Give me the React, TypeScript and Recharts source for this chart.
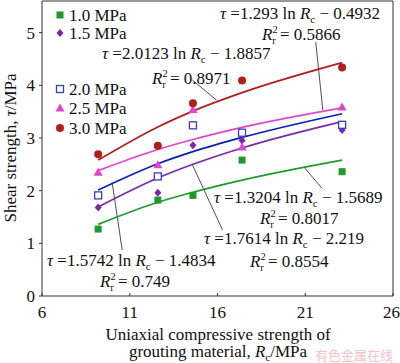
import React from "react"
import { ComposedChart, Scatter, Line, XAxis, YAxis, ReferenceLine } from "recharts"

// Shear strength vs. grouting material UCS, five confining pressures with log fits.

const rc = [9.2, 12.6, 14.6, 17.4, 23.1]

const tau10 = [1.27, 1.82, 1.91, 2.58, 2.36]
const tau15 = [1.68, 1.96, 2.86, 2.95, 3.15]
const tau20 = [1.91, 2.27, 3.24, 3.1, 3.25]
const tau25 = [2.35, 2.49, 3.54, 2.83, 3.59]
const tau30 = [2.69, 2.85, 3.66, 4.09, 4.34]

// fitted curves at the same Rc values
const fit10 = [1.36, 1.78, 1.97, 2.2, 2.58]
const fit15 = [1.69, 2.24, 2.5, 2.81, 3.31]
const fit20 = [2.01, 2.51, 2.74, 3.01, 3.46]
const fit25 = [2.38, 2.78, 2.97, 3.2, 3.57]
const fit30 = [2.58, 3.21, 3.51, 3.86, 4.43]

const xTicks = [6, 11, 16, 21, 26]
const yTicks = [0, 1, 2, 3, 4, 5]

const labels = ["1.0 MPa", "1.5 MPa", "2.0 MPa", "2.5 MPa", "3.0 MPa"]
const coefA = ["1.3204", "1.7614", "1.5742", "1.293", "2.0123"]
const coefB = ["1.5689", "2.219", "1.4834", "0.4932", "1.8857"]
const r2 = ["0.8017", "0.8554", "0.749", "0.5866", "0.8971"]

const SERIF = "'Liberation Serif', 'Times New Roman', serif"

type Kind = "sq" | "dia" | "osq" | "tri" | "dot"

const series: { kind: Kind; color: string; line: string; pts: number[]; fit: number[] }[] = [
  { kind: "sq", color: "#1c9a2a", line: "#1f9a2e", pts: tau10, fit: fit10 },
  { kind: "dia", color: "#7a26a8", line: "#7b2aa6", pts: tau15, fit: fit15 },
  { kind: "osq", color: "#3b3bc4", line: "#0c1db8", pts: tau20, fit: fit20 },
  { kind: "tri", color: "#e244cc", line: "#e244cc", pts: tau25, fit: fit25 },
  { kind: "dot", color: "#b01e1e", line: "#b01e1e", pts: tau30, fit: fit30 },
]

const toRows = (ys: number[]) => rc.map((x, i) => ({ x, y: ys[i] }))

function Marker({ kind, color, cx, cy }: { kind: Kind; color: string; cx: number; cy: number }) {
  if (kind === "sq") return <rect x={cx - 3.5} y={cy - 3.5} width={7} height={7} fill={color} />
  if (kind === "osq")
    return <rect x={cx - 3.5} y={cy - 3.5} width={7} height={7} fill="#fff" stroke={color} strokeWidth={1.3} />
  if (kind === "dia")
    return <polygon points={`${cx},${cy - 4} ${cx + 3.5},${cy} ${cx},${cy + 4} ${cx - 3.5},${cy}`} fill={color} />
  if (kind === "tri")
    return <polygon points={`${cx},${cy - 4.5} ${cx + 4.5},${cy + 3.5} ${cx - 4.5},${cy + 3.5}`} fill={color} />
  return <circle cx={cx} cy={cy} r={4} fill={color} />
}

function Eq({ x, y, a, b }: { x: number; y: number; a: string; b: string }) {
  return (
    <text x={x} y={y} fontSize={17} fontFamily={SERIF} fill="#111">
      <tspan fontStyle="italic">τ</tspan>
      <tspan> =</tspan>
      <tspan>{a} ln </tspan>
      <tspan fontStyle="italic">R</tspan>
      <tspan fontSize={11} dy={4}>c</tspan>
      <tspan dy={-4}> − {b}</tspan>
    </text>
  )
}

function R2({ x, y, v }: { x: number; y: number; v: string }) {
  return (
    <text x={x} y={y} fontSize={17} fontFamily={SERIF} fill="#111">
      <tspan fontStyle="italic">R</tspan>
      <tspan fontSize={10.5} dy={-7}>2</tspan>
      <tspan fontSize={10.5} dx={-5.5} dy={11}>r</tspan>
      <tspan dy={-4}> = {v}</tspan>
    </text>
  )
}

// leader lines, in data units: [x1, y1, x2, y2]
const leaders = [
  [20.97, 2.43, 21.94, 2.05],
  [14.57, 2.49, 16.29, 1.25],
  [10.0, 2.15, 10.57, 0.87],
  [21.6, 4.82, 22.0, 3.53],
  [14.57, 4.1, 15.94, 3.72],
]

export default function App() {
  const tick = { fontSize: 17, fill: "#111", fontFamily: SERIF }
  return (
    <div style={{ position: "absolute", left: 0, top: 0, width: 400, height: 363, background: "#fff" }}>
      <ComposedChart width={400} height={363} margin={{ top: 1, right: 7, bottom: 37, left: 0 }}>
        <XAxis
          dataKey="x"
          type="number"
          domain={[6, 26]}
          ticks={xTicks}
          tick={tick}
          tickSize={-3}
          tickMargin={13}
          height={30}
          stroke="#333"
          allowDataOverflow
        />
        <YAxis
          dataKey="y"
          type="number"
          domain={[0, 5.6]}
          ticks={yTicks}
          tick={tick}
          tickSize={3}
          tickMargin={4}
          width={42}
          stroke="#333"
          allowDataOverflow
        />
        <ReferenceLine y={5.6} stroke="#333" />
        <ReferenceLine x={26} stroke="#333" />
        {leaders.map((l, i) => (
          <ReferenceLine
            key={"l" + i}
            segment={[{ x: l[0], y: l[1] }, { x: l[2], y: l[3] }]}
            stroke="#222"
            strokeWidth={0.8}
          />
        ))}
        {series.map((s, i) => (
          <Line
            key={"f" + i}
            data={toRows(s.fit)}
            dataKey="y"
            type="monotone"
            stroke={s.line}
            strokeWidth={1.7}
            dot={false}
            activeDot={false}
            isAnimationActive={false}
          />
        ))}
        {series.map((s, i) => (
          <Scatter
            key={"s" + i}
            data={toRows(s.pts)}
            isAnimationActive={false}
            shape={(p: any) => <Marker kind={s.kind} color={s.color} cx={p.cx} cy={p.cy} />}
          />
        ))}
      </ComposedChart>
      <svg width={400} height={363} style={{ position: "absolute", left: 0, top: 0, pointerEvents: "none" }}>
        {[15, 33, 89, 108, 128].map((cy, i) => (
          <g key={i}>
            <Marker kind={series[i].kind} color={series[i].color} cx={60} cy={cy} />
            <text x={69} y={cy + 6} fontSize={17} fontFamily={SERIF} fill="#111">
              {labels[i]}
            </text>
          </g>
        ))}
        <Eq x={214} y={203} a={coefA[0]} b={coefB[0]} />
        <R2 x={260} y={224} v={r2[0]} />
        <Eq x={204} y={244} a={coefA[1]} b={coefB[1]} />
        <R2 x={250} y={267} v={r2[1]} />
        <Eq x={47} y={266} a={coefA[2]} b={coefB[2]} />
        <R2 x={100} y={287} v={r2[2]} />
        <Eq x={220} y={19} a={coefA[3]} b={coefB[3]} />
        <R2 x={262} y={40} v={r2[3]} />
        <Eq x={102} y={59} a={coefA[4]} b={coefB[4]} />
        <R2 x={152} y={84} v={r2[4]} />
        <text
          transform="translate(16,148) rotate(-90)"
          textAnchor="middle"
          fontSize={17}
          fontFamily={SERIF}
          fill="#111"
        >
          Shear strength, <tspan fontStyle="italic">τ</tspan>/MPa
        </text>
        <text x={218} y={340} textAnchor="middle" fontSize={17} fontFamily={SERIF} fill="#111">
          Uniaxial compressive strength of
        </text>
        <text x={218} y={357} textAnchor="middle" fontSize={17} fontFamily={SERIF} fill="#111">
          grouting material, <tspan fontStyle="italic">R</tspan>
          <tspan fontSize={11} dy={4}>c</tspan>
          <tspan dy={-4}>/MPa</tspan>
        </text>
        <text x={315} y={360} fontSize={13} fontFamily="'Noto Sans CJK SC', sans-serif" fill="#f2c2ca">
          有色金属在线
        </text>
      </svg>
    </div>
  )
}
